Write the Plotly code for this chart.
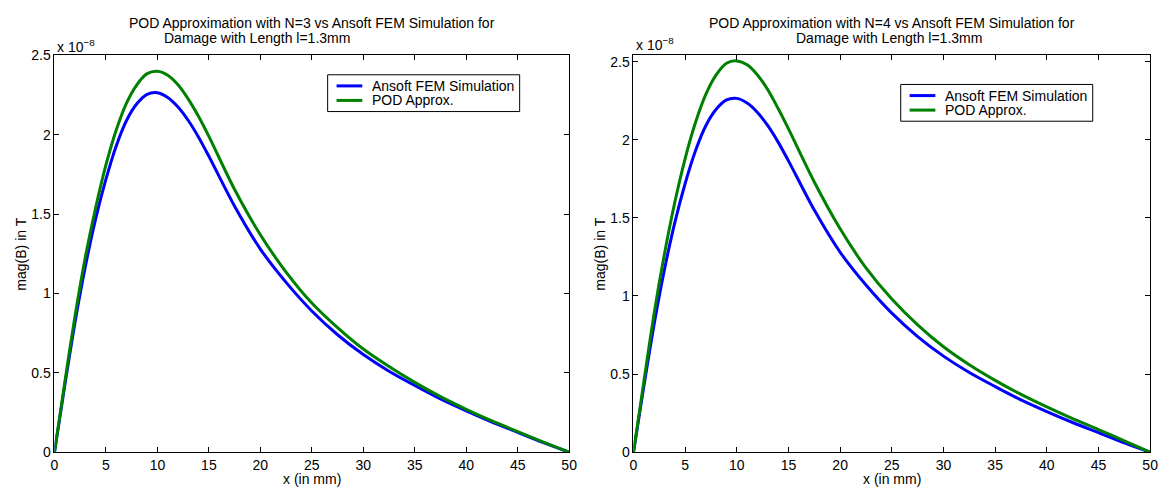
import plotly.graph_objects as go

# x positions (mm)
x_mm = [0, 1, 2, 3, 4, 5, 6, 7, 8, 9, 10, 11, 12, 13, 14, 15,
        17.5, 20, 22.5, 25, 27.5, 30, 32.5, 35, 37.5, 40, 42.5, 45, 47.5, 50]

# mag(B) in units of 1e-8 T
ansoft_fem = [0, 0.42, 0.82, 1.17, 1.47, 1.72, 1.93, 2.09, 2.195, 2.255, 2.265, 2.235, 2.175,
              2.09, 1.985, 1.865, 1.55, 1.28, 1.07, 0.89, 0.74, 0.615, 0.51, 0.42, 0.335, 0.26,
              0.19, 0.125, 0.06, 0]
pod_n3 = [0, 0.44, 0.86, 1.23, 1.54, 1.81, 2.03, 2.2, 2.315, 2.385, 2.4, 2.375, 2.315, 2.225,
          2.115, 1.99, 1.655, 1.37, 1.135, 0.94, 0.785, 0.65, 0.54, 0.44, 0.35, 0.27, 0.197,
          0.13, 0.064, 0]
pod_n4 = [0, 0.45, 0.89, 1.27, 1.6, 1.88, 2.11, 2.29, 2.415, 2.49, 2.505, 2.48, 2.415, 2.32,
          2.2, 2.07, 1.73, 1.43, 1.18, 0.98, 0.815, 0.675, 0.56, 0.46, 0.37, 0.29, 0.215,
          0.145, 0.072, 0]

x_ticks = [0, 5, 10, 15, 20, 25, 30, 35, 40, 45, 50]
y_ticks = [0, 0.5, 1, 1.5, 2, 2.5]
y_tick_text = ["0", "0.5", "1", "1.5", "2", "2.5"]
series_names = ["Ansoft FEM Simulation", "POD Approx."]

W, H = 1171, 496
FONT = "Liberation Sans, Arial, Helvetica, sans-serif"
FS = 14
BLUE = "#0000ff"
GREEN = "#008000"
COLORS = [BLUE, GREEN]

# box positions in pixels
L_box = (51, 571)
R_box = (636, 1158)
top_px, bot_px = 49, 459

def px_x(p):
    return p / W

def px_y(p):
    return 1 - p / H

fig = go.Figure()

line_kw = dict(shape="spline", smoothing=0.8, width=3)
fig.add_trace(go.Scatter(x=x_mm, y=ansoft_fem, mode="lines", name=series_names[0],
                         line=dict(color=BLUE, **line_kw), xaxis="x", yaxis="y"))
fig.add_trace(go.Scatter(x=x_mm, y=pod_n3, mode="lines", name=series_names[1],
                         line=dict(color=GREEN, **line_kw), xaxis="x", yaxis="y"))
fig.add_trace(go.Scatter(x=x_mm, y=ansoft_fem, mode="lines", name=series_names[0],
                         line=dict(color=BLUE, **line_kw), xaxis="x2", yaxis="y2"))
fig.add_trace(go.Scatter(x=x_mm, y=pod_n4, mode="lines", name=series_names[1],
                         line=dict(color=GREEN, **line_kw), xaxis="x2", yaxis="y2"))

axis_common = dict(showgrid=False, zeroline=False, showline=True, linecolor="black",
                   linewidth=1, mirror="ticks", ticks="inside", ticklen=5,
                   tickcolor="black", tickwidth=1,
                   tickfont=dict(family=FONT, size=FS, color="black"))

fig.update_layout(
    width=W, height=H,
    margin=dict(l=0, r=0, t=0, b=0),
    paper_bgcolor="white", plot_bgcolor="white",
    font=dict(family=FONT, size=FS, color="black"),
    showlegend=False,
    xaxis=dict(domain=[px_x(L_box[0]), px_x(L_box[1])], range=[0, 50], tickvals=x_ticks,
               anchor="y", **axis_common),
    yaxis=dict(domain=[px_y(bot_px), px_y(top_px)], range=[0, 2.5], tickvals=y_ticks,
               ticktext=y_tick_text, anchor="x", **axis_common),
    xaxis2=dict(domain=[px_x(R_box[0]), px_x(R_box[1])], range=[0, 50], tickvals=x_ticks,
                anchor="y2", **axis_common),
    yaxis2=dict(domain=[px_y(bot_px), px_y(top_px)], range=[0, 2.54], tickvals=y_ticks,
                ticktext=y_tick_text, anchor="x2", **axis_common),
)

ann = []
shapes = []
def add_text(text, xp, yp, xanchor="center", yanchor="middle", angle=0, size=FS):
    ann.append(dict(text=text, x=px_x(xp), y=px_y(yp), xref="paper", yref="paper",
                    xanchor=xanchor, yanchor=yanchor, showarrow=False, textangle=angle,
                    font=dict(family=FONT, size=size, color="black")))

# MATLAB-style compact legend boxes
def add_legend(x0, y0, w=194, h=38, row=15):
    shapes.append(dict(type="rect", xref="paper", yref="paper",
                       x0=px_x(x0), x1=px_x(x0 + w), y0=px_y(y0 + h), y1=px_y(y0),
                       line=dict(color="black", width=1), fillcolor="white", layer="above"))
    for i, (name, col) in enumerate(zip(series_names, COLORS)):
        yy = y0 + 11.5 + i * row
        shapes.append(dict(type="line", xref="paper", yref="paper",
                           x0=px_x(x0 + 9), x1=px_x(x0 + 35), y0=px_y(yy), y1=px_y(yy),
                           line=dict(color=col, width=3), layer="above"))
        add_text(name, x0 + 43, yy, xanchor="left")

add_legend(327, 69)
add_legend(906, 79)

# titles
Lc = (L_box[0] + L_box[1]) / 2
Rc = (R_box[0] + R_box[1]) / 2
add_text("POD Approximation with N=3 vs Ansoft FEM Simulation for", Lc, 15)
add_text("Damage with Length l=1.3mm", 160, 31, xanchor="left")
add_text("POD Approximation with N=4 vs Ansoft FEM Simulation for", Rc, 15)
add_text("Damage with Length l=1.3mm", Rc - 3, 31)

# exponent labels
add_text("x 10<sup>\u22128</sup>", L_box[0] + 1, 39, xanchor="left")
add_text("x 10<sup>\u22128</sup>", R_box[0] + 1, 37, xanchor="left")

# axis labels
add_text("x (in mm)", Lc, 487)
add_text("x (in mm)", Rc, 487)
add_text("mag(B) in T", 17, (top_px + bot_px) / 2, angle=-90)
add_text("mag(B) in T", 602, (top_px + bot_px) / 2, angle=-90)

fig.update_layout(annotations=ann, shapes=shapes)

fig.write_html("out.html")
